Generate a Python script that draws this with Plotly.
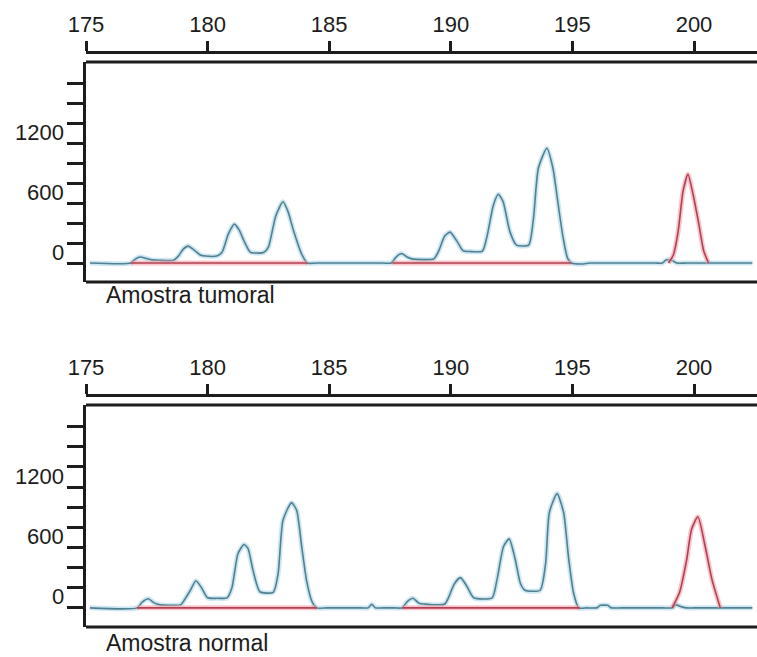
import plotly.graph_objects as go

# Fragment size axis (bp) and signal ticks (RFU)
bp_ticks = [175, 180, 185, 190, 195, 200]
rfu_ticks = [0, 200, 400, 600, 800, 1000, 1200, 1400, 1600, 1800]
rfu_labeled = [0, 600, 1200]

# Tumour sample: blue channel trace
tumor_blue_bp = [175.16, 176.85, 177.0, 177.22, 177.5, 177.7, 178.0, 178.6, 178.8, 179.0,
                 179.2, 179.45, 179.7, 179.9, 180.4, 180.6, 180.85, 181.1, 181.3, 181.5,
                 181.75, 182.0, 182.3, 182.5, 182.8, 183.1, 183.3, 183.55, 183.85, 184.1,
                 184.5, 187.2, 187.55, 187.75, 187.98, 188.2, 188.4, 189.3, 189.5, 189.75,
                 189.97, 190.25, 190.5, 190.8, 191.3, 191.5, 191.75, 191.95, 192.15, 192.43,
                 192.7, 193.2, 193.4, 193.6, 193.95, 194.2, 194.4, 194.6, 194.8, 194.97,
                 195.4, 195.7, 196.2, 198.4, 198.7, 198.85, 199.1, 199.3, 199.7, 202.4]
tumor_blue_rfu = [0, 0, 35, 60, 45, 32, 28, 28, 70, 140,
                  170, 130, 80, 70, 72, 110, 290, 390, 330, 220,
                  110, 100, 105, 160, 470, 615, 520, 310, 100, 0,
                  0, 0, 0, 60, 95, 60, 42, 42, 120, 270,
                  310, 220, 125, 115, 120, 280, 580, 690, 615, 315,
                  180, 180, 450, 950, 1150, 950, 615, 280, 50, 0,
                  -10, 0, 0, 0, 0, 30, 25, 0, 0, 0]

# Tumour sample: red channel trace
tumor_red_bp = [176.85, 184.1, None, 187.6, 194.95, None,
                198.95, 199.15, 199.35, 199.55, 199.75, 199.96, 200.2, 200.4, 200.6]
tumor_red_rfu = [0, 0, None, 0, 0, None,
                 0, 80, 320, 720, 890, 690, 390, 120, 0]

# Normal sample: blue channel trace
normal_blue_bp = [175.16, 177.1, 177.3, 177.56, 177.8, 178.0, 178.9, 179.05, 179.28, 179.52,
                  179.75, 180.0, 180.4, 180.8, 181.0, 181.25, 181.5, 181.66, 181.87, 182.15,
                  182.7, 182.9, 183.1, 183.45, 183.66, 183.87, 184.07, 184.28, 184.49, 184.9,
                  186.3, 186.6, 186.75, 186.9, 187.2, 187.7, 188.0, 188.2, 188.45, 188.7,
                  189.75, 189.9, 190.15, 190.4, 190.67, 190.95, 191.7, 191.9, 192.17, 192.4,
                  192.65, 192.86, 193.05, 193.67, 193.9, 194.05, 194.37, 194.64, 194.85, 195.05,
                  195.26, 195.6, 196.0, 196.15, 196.45, 196.6, 197.0, 198.7, 199.1, 199.25,
                  199.5, 199.7, 200.2, 202.4]
normal_blue_rfu = [0, 0, 55, 90, 50, 32, 32, 80, 170, 270,
                   200, 100, 95, 100, 200, 540, 630, 590, 370, 160,
                   155, 340, 870, 1045, 970, 605, 270, 70, 0, 0,
                   0, 0, 35, 0, 0, 0, 0, 60, 95, 45,
                   38, 100, 240, 300, 210, 100, 100, 280, 610, 685,
                   480, 245, 175, 175, 445, 945, 1135, 945, 480, 145,
                   0, 0, 0, 25, 25, 0, 0, 0, 0, 30,
                   10, 0, 0, 0]

# Normal sample: red channel trace
normal_red_bp = [177.1, 184.5, None, 188.0, 195.3, None,
                 199.1, 199.4, 199.7, 199.9, 200.16, 200.46, 200.74, 201.08]
normal_red_rfu = [0, 0, None, 0, 0, None,
                  0, 150, 480, 780, 905, 610, 280, 0]

panel_names = ["Amostra tumoral", "Amostra normal"]

W, H = 757, 657
FONT = "Liberation Sans, Arial, sans-serif"
INK = "#1c1c1c"

BLUE_HALO = "rgba(170, 215, 235, 0.6)"
BLUE_CORE = "#52808f"
RED_HALO = "rgba(240, 160, 170, 0.6)"
RED_CORE = "#b2414f"


def py(px):
    """Convert a pixel row (from top) to paper fraction."""
    return (H - px) / H


# Pixel geometry of the two framed panels
panels = [
    dict(frame_top=62, frame_bottom=282, axis_line=52, label_y=295),
    dict(frame_top=405, frame_bottom=627, axis_line=395, label_y=643),
]

x_left = 86 / W
x_range = [175, 175 + (W - 86) / 24.32]
y_range = [-190, 2015]

fig = go.Figure()

series = [
    (tumor_blue_bp, tumor_blue_rfu, tumor_red_bp, tumor_red_rfu),
    (normal_blue_bp, normal_blue_rfu, normal_red_bp, normal_red_rfu),
]

for i, (bx, by, rx, ry) in enumerate(series):
    xa = "x" if i == 0 else "x2"
    ya = "y" if i == 0 else "y2"
    for xs, ys, halo, core in ((bx, by, BLUE_HALO, BLUE_CORE), (rx, ry, RED_HALO, RED_CORE)):
        fig.add_trace(go.Scatter(
            x=xs, y=ys, xaxis=xa, yaxis=ya, mode="lines",
            line=dict(color=halo, width=5, shape="spline", smoothing=0.6),
            hoverinfo="skip", showlegend=False, connectgaps=False,
        ))
        fig.add_trace(go.Scatter(
            x=xs, y=ys, xaxis=xa, yaxis=ya, mode="lines",
            line=dict(color=core, width=1.6, shape="spline", smoothing=0.6),
            showlegend=False, connectgaps=False,
        ))

axis_common_x = dict(
    range=x_range, domain=[x_left, 1], side="top", anchor="free",
    tickmode="array", tickvals=bp_ticks, ticktext=[str(t) for t in bp_ticks],
    showline=True, linecolor=INK, linewidth=3,
    ticks="outside", ticklen=10, tickwidth=3, tickcolor=INK,
    ticklabelstandoff=0, automargin=False,
    showgrid=False, zeroline=False,
    tickfont=dict(family=FONT, size=22, color=INK),
)
axis_common_y = dict(
    range=y_range, tickmode="array", tickvals=rfu_ticks, showticklabels=False,
    showline=True, linecolor=INK, linewidth=3,
    ticks="outside", ticklen=16, tickwidth=2.5, tickcolor=INK,
    automargin=False, showgrid=False, zeroline=False,
)

layout = dict(
    width=W, height=H, margin=dict(l=0, r=0, t=0, b=0, autoexpand=False),
    paper_bgcolor="white", plot_bgcolor="white",
    font=dict(family=FONT, color=INK),
)

shapes = []
annotations = []
for i, p in enumerate(panels):
    sfx = "" if i == 0 else "2"
    layout["xaxis" + sfx] = dict(axis_common_x, position=py(p["axis_line"]))
    layout["yaxis" + sfx] = dict(axis_common_y, anchor="x" + sfx,
                                 domain=[py(p["frame_bottom"]), py(p["frame_top"])])
    for yd in (0, 1):
        shapes.append(dict(
            type="line", xref="x" + sfx + " domain", yref="y" + sfx + " domain",
            x0=0, x1=1, y0=yd, y1=yd, line=dict(color=INK, width=3),
        ))
    # RFU labels sit slightly above their tick marks
    for v in rfu_labeled:
        annotations.append(dict(
            text=str(v), xref="paper", yref="y" + sfx, x=66 / W, y=v,
            xanchor="right", yanchor="middle", yshift=11, showarrow=False,
            font=dict(family=FONT, size=22, color=INK),
        ))
    annotations.append(dict(
        text=panel_names[i], xref="paper", yref="paper",
        x=104 / W, y=py(p["label_y"]), xanchor="left", yanchor="middle",
        showarrow=False, font=dict(family=FONT, size=23, color=INK),
    ))

layout["shapes"] = shapes
layout["annotations"] = annotations
fig.update_layout(**layout)

fig.write_html("out.html")
